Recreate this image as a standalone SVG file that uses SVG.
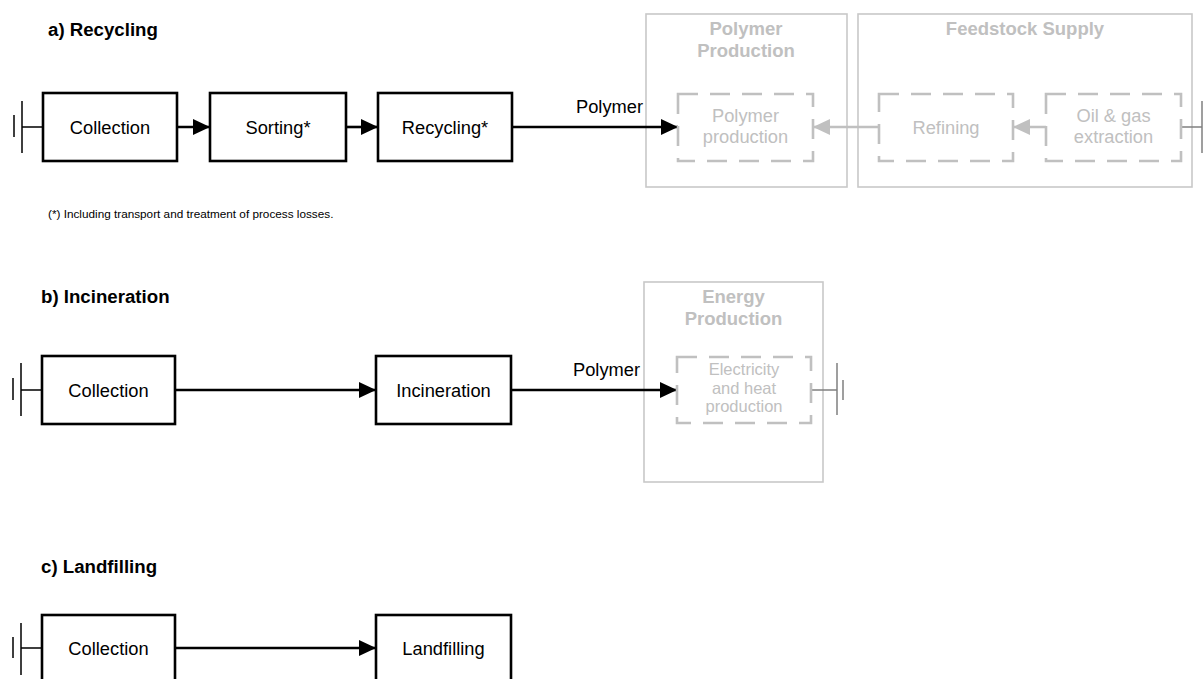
<svg xmlns="http://www.w3.org/2000/svg" width="1203" height="679" viewBox="0 0 1203 679">
<style>
  .box { fill: #ffffff; stroke: #000000; stroke-width: 2.6; }
  .dbox { fill: none; stroke: #c0c0c0; stroke-width: 2.6; stroke-dasharray: 20 12; }
  .cont { fill: #ffffff; stroke: #c8c8c8; stroke-width: 1.6; }
  .t { font-family: "Liberation Sans", Arial, sans-serif; font-size: 18.3px; fill: #000000; text-anchor: middle; }
  .tg { font-family: "Liberation Sans", Arial, sans-serif; font-size: 18.3px; fill: #c0c0c0; text-anchor: middle; }
  .tgs { font-family: "Liberation Sans", Arial, sans-serif; font-size: 16.5px; fill: #c0c0c0; text-anchor: middle; }
  .hg { font-family: "Liberation Sans", Arial, sans-serif; font-size: 18.5px; font-weight: bold; fill: #c0c0c0; text-anchor: middle; }
  .title { font-family: "Liberation Sans", Arial, sans-serif; font-size: 18.67px; font-weight: bold; fill: #000000; }
  .note { font-family: "Liberation Sans", Arial, sans-serif; font-size: 11.75px; fill: #000000; }
  .lbl { font-family: "Liberation Sans", Arial, sans-serif; font-size: 18.3px; fill: #000000; }
  .conn { fill: none; stroke: #000000; stroke-width: 2.6; }
  .conng { fill: none; stroke: #c0c0c0; stroke-width: 2.6; }
  .gnd { fill: none; stroke: #000000; stroke-width: 1.5; }
  .gndg { fill: none; stroke: #808080; stroke-width: 1.5; }
</style>
<defs>
  <marker id="ah" markerUnits="userSpaceOnUse" markerWidth="18" markerHeight="18" refX="17" refY="8" orient="auto">
    <path d="M0,0 L17,8 L0,16 Z" fill="#000000"/>
  </marker>
  <marker id="ahg" markerUnits="userSpaceOnUse" markerWidth="18" markerHeight="18" refX="17" refY="8" orient="auto">
    <path d="M0,0 L17,8 L0,16 Z" fill="#c0c0c0"/>
  </marker>
</defs>

<!-- Titles -->
<text class="title" x="48" y="36">a) Recycling</text>
<text class="title" x="41" y="303">b) Incineration</text>
<text class="title" x="41" y="573">c) Landfilling</text>
<text class="note" x="48" y="218">(*) Including transport and treatment of process losses.</text>

<!-- Containers -->
<g id="container-polymer-production">
  <rect class="cont" x="646" y="14" width="201" height="173"/>
  <text class="hg" x="746" y="35">Polymer</text>
  <text class="hg" x="746" y="57">Production</text>
</g>
<g id="container-feedstock-supply">
  <rect class="cont" x="858" y="14" width="334" height="173"/>
  <text class="hg" x="1025" y="35">Feedstock Supply</text>
</g>
<g id="container-energy-production">
  <rect class="cont" x="644" y="282" width="179" height="200"/>
  <text class="hg" x="733.5" y="303">Energy</text>
  <text class="hg" x="733.5" y="325">Production</text>
</g>

<!-- Connectors -->
<g id="connectors">
  <!-- a -->
  <path class="gnd" d="M22,101 V153 M14,115 V137 M22,127 H43"/>
  <path class="conn" d="M177,127 H210" marker-end="url(#ah)"/>
  <path class="conn" d="M346,127 H378" marker-end="url(#ah)"/>
  <path class="conn" d="M512,127 H678" marker-end="url(#ah)"/>
  <path class="conng" d="M879,127 H813" marker-end="url(#ahg)"/>
  <path class="conng" d="M1046,127 H1013" marker-end="url(#ahg)"/>
  <path class="gndg" d="M1181,127 H1202 M1202,101 V153"/>
  <!-- b -->
  <path class="gnd" d="M21,363 V416 M13,378 V400 M21,390 H42"/>
  <path class="conn" d="M175,390 H376" marker-end="url(#ah)"/>
  <path class="conn" d="M511,390 H677" marker-end="url(#ah)"/>
  <path class="gndg" d="M811,390 H837 M837,363 V415 M843,380 V400"/>
  <!-- c -->
  <path class="gnd" d="M21,623 V675 M13,637 V658 M21,648 H42"/>
  <path class="conn" d="M175,648 H376" marker-end="url(#ah)"/>
</g>

<!-- Labels -->
<text class="lbl" x="576" y="113">Polymer</text>
<text class="lbl" x="573" y="376">Polymer</text>

<!-- a) nodes -->
<g id="a-collection">
  <rect class="box" x="43" y="93" width="134" height="68"/>
  <text class="t" x="110" y="133.5">Collection</text>
</g>
<g id="a-sorting">
  <rect class="box" x="210" y="93" width="136" height="68"/>
  <text class="t" x="278" y="133.5">Sorting*</text>
</g>
<g id="a-recycling">
  <rect class="box" x="378" y="93" width="134" height="68"/>
  <text class="t" x="445" y="133.5">Recycling*</text>
</g>
<g id="a-polymer-production">
  <rect class="dbox" x="678" y="94" width="135" height="67"/>
  <text class="tg" x="745.5" y="122">Polymer</text>
  <text class="tg" x="745.5" y="143">production</text>
</g>
<g id="a-refining">
  <rect class="dbox" x="879" y="94" width="134" height="67"/>
  <text class="tg" x="946" y="133.5">Refining</text>
</g>
<g id="a-oil-gas">
  <rect class="dbox" x="1046" y="94" width="135" height="67"/>
  <text class="tg" x="1113.5" y="122">Oil &amp; gas</text>
  <text class="tg" x="1113.5" y="143">extraction</text>
</g>

<!-- b) nodes -->
<g id="b-collection">
  <rect class="box" x="42" y="356" width="133" height="68"/>
  <text class="t" x="108.5" y="396.5">Collection</text>
</g>
<g id="b-incineration">
  <rect class="box" x="376" y="356" width="135" height="68"/>
  <text class="t" x="443.5" y="396.5">Incineration</text>
</g>
<g id="b-electricity">
  <rect class="dbox" x="677" y="357" width="134" height="66"/>
  <text class="tgs" x="744" y="375">Electricity</text>
  <text class="tgs" x="744" y="393.5">and heat</text>
  <text class="tgs" x="744" y="412">production</text>
</g>

<!-- c) nodes -->
<g id="c-collection">
  <rect class="box" x="42" y="615" width="133" height="68"/>
  <text class="t" x="108.5" y="655">Collection</text>
</g>
<g id="c-landfilling">
  <rect class="box" x="376" y="615" width="135" height="68"/>
  <text class="t" x="443.5" y="655">Landfilling</text>
</g>
</svg>
